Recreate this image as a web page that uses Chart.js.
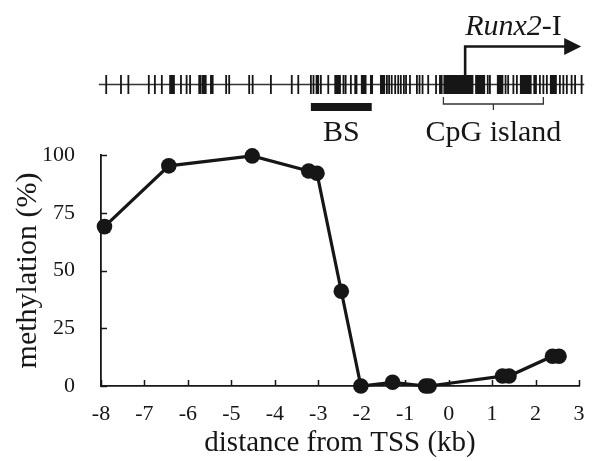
<!DOCTYPE html>
<html>
<head>
<meta charset="utf-8">
<script src="https://cdn.jsdelivr.net/npm/chart.js@4.4.0/dist/chart.umd.min.js"></script>
<style>
  html, body { margin: 0; padding: 0; background: #fff; }
</style>
</head>
<body>
<canvas id="chartCanvas" width="603" height="461"></canvas>
<script>
// methylation profile (distance in kb, methylation in %)
const distKb = [-7.92, -6.44, -4.52, -3.22, -3.03, -2.47, -2.02, -1.29, -0.53, -0.45, 1.24, 1.39, 2.39, 2.54];
const methylPct = [69, 95.3, 99.6, 93.1, 92.1, 41, 0, 1.6, 0, 0, 4.3, 4.3, 12.9, 12.9];

const xTicks = [-8, -7, -6, -5, -4, -3, -2, -1, 0, 1, 2, 3];
const yTicks = [0, 25, 50, 75, 100];

// CpG map above the plot (kb)
const cpgSites = [-7.88, -7.54, -7.37, -6.90, -6.76, -6.60, -6.16, -6.03, -5.95, -5.74, -5.71, -5.66, -5.63,
  -5.59, -5.47, -5.43, -5.12, -5.05, -4.59, -4.51, -4.09, -3.61, -3.46, -3.17, -3.11, -3.04, -3.00, -2.94,
  -2.77, -2.61, -2.58, -2.54, -2.50, -2.42, -2.37, -2.25, -2.15, -2.12, -1.42, -1.37, -1.31, -1.23, -1.16,
  -1.10, -1.03, -0.98, -0.89, -0.73, -0.67, -0.60, -0.47, -0.29, -0.20, -0.16, 0.90, 0.95, 1.31, 1.37,
  1.49, 1.57, 1.97, 2.01, 2.10, 2.18, 2.26, 2.56, 2.64, 2.72, 2.83, 2.91, 3.06];
const cpgBlocks = [[-6.43, -6.30], [-2.02, -1.89], [-1.81, -1.74], [-1.58, -1.46], [-0.12, 0.57],
  [0.61, 0.84], [1.11, 1.26], [1.64, 1.91], [2.33, 2.49]];
const bsRegion = [-3.17, -1.77];
const cpgIsland = [-0.12, 2.18];
const tssArrow = [0.38, 3.05];
const mapRange = [-8.05, 3.12];

const INK = "#161616";
const SERIF = '"Liberation Serif", "Times New Roman", serif';

// inward tick marks on both axes
const innerTicks = {
  id: "innerTicks",
  afterDraw(chart) {
    const ctx = chart.ctx;
    const x = chart.scales.x, y = chart.scales.y;
    ctx.save();
    ctx.strokeStyle = INK;
    ctx.lineWidth = 1.5;
    ctx.beginPath();
    xTicks.forEach(v => {
      const px = Math.round(x.getPixelForValue(v)) + 0.5;
      ctx.moveTo(px, y.bottom);
      ctx.lineTo(px, y.bottom - 6);
    });
    yTicks.forEach(v => {
      const py = Math.round(y.getPixelForValue(v)) + 0.5;
      ctx.moveTo(x.left, py);
      ctx.lineTo(x.left + 6, py);
    });
    ctx.stroke();
    ctx.restore();
  }
};

// CpG map, BS amplicon, CpG island and TSS arrow
const geneMap = {
  id: "geneMap",
  afterDraw(chart) {
    const ctx = chart.ctx;
    const x = chart.scales.x;
    const px = v => x.getPixelForValue(v);
    const lineY = 84.5;
    ctx.save();

    ctx.strokeStyle = "#333";
    ctx.lineWidth = 1.5;
    ctx.beginPath();
    ctx.moveTo(px(mapRange[0]), lineY);
    ctx.lineTo(px(mapRange[1]), lineY);
    ctx.stroke();

    ctx.strokeStyle = INK;
    ctx.lineWidth = 1.8;
    ctx.beginPath();
    cpgSites.forEach(v => {
      ctx.moveTo(px(v), lineY - 9.5);
      ctx.lineTo(px(v), lineY + 9.5);
    });
    ctx.stroke();

    ctx.fillStyle = INK;
    cpgBlocks.forEach(b => {
      ctx.fillRect(px(b[0]), lineY - 9.5, px(b[1]) - px(b[0]), 19);
    });

    // BS bar
    ctx.fillRect(px(bsRegion[0]), 103, px(bsRegion[1]) - px(bsRegion[0]), 8);

    // CpG island bracket
    const l = px(cpgIsland[0]), r = px(cpgIsland[1]);
    ctx.lineWidth = 1.3;
    ctx.strokeStyle = "#333";
    ctx.beginPath();
    ctx.moveTo(l, 97); ctx.lineTo(l, 104); ctx.lineTo(r, 104); ctx.lineTo(r, 97);
    ctx.moveTo((l + r) / 2, 104); ctx.lineTo((l + r) / 2, 110);
    ctx.stroke();

    // TSS arrow
    const ax = px(tssArrow[0]), aEnd = px(tssArrow[1]);
    ctx.strokeStyle = INK;
    ctx.lineWidth = 2.6;
    ctx.beginPath();
    ctx.moveTo(ax, 75);
    ctx.lineTo(ax, 46.5);
    ctx.lineTo(aEnd - 16, 46.5);
    ctx.stroke();
    ctx.beginPath();
    ctx.moveTo(aEnd, 46.5);
    ctx.lineTo(aEnd - 17, 38);
    ctx.lineTo(aEnd - 17, 55);
    ctx.closePath();
    ctx.fill();

    // labels
    ctx.fillStyle = INK;
    ctx.textBaseline = "alphabetic";
    ctx.font = "italic 30px " + SERIF;
    ctx.textAlign = "left";
    ctx.fillText("Runx2", ax, 35);
    const w = ctx.measureText("Runx2").width;
    ctx.font = "30px " + SERIF;
    ctx.fillText("-I", ax + w, 35);

    ctx.textAlign = "center";
    ctx.fillText("BS", (px(bsRegion[0]) + px(bsRegion[1])) / 2, 141);
    ctx.fillText("CpG island", (l + r) / 2, 141);
    ctx.restore();
  }
};

const ctx = document.getElementById("chartCanvas").getContext("2d");
const chart = new Chart(ctx, {
  type: "scatter",
  data: {
    datasets: [{
      data: distKb.map((d, i) => ({ x: d, y: methylPct[i] })),
      showLine: true,
      clip: false,
      borderColor: INK,
      backgroundColor: INK,
      borderWidth: 3.2,
      pointRadius: 7.8,
      pointBorderWidth: 0,
      tension: 0
    }]
  },
  options: {
    responsive: false,
    animation: false,
    layout: { padding: { top: 155, right: 24, left: 0, bottom: 0 } },
    plugins: { legend: { display: false }, tooltip: { enabled: false } },
    scales: {
      x: {
        type: "linear",
        min: -8,
        max: 3,
        afterBuildTicks: s => { s.ticks = xTicks.map(v => ({ value: v })); },
        afterFit: s => { s.height = 75; },
        grid: { display: false },
        border: { color: INK, width: 1.8 },
        ticks: { color: INK, font: { family: SERIF, size: 22 }, padding: 7 },
        title: { display: true, text: "distance from TSS (kb)", color: INK,
          font: { family: SERIF, size: 29 }, padding: { top: 0, bottom: 0 } }
      },
      y: {
        min: 0,
        max: 100,
        afterBuildTicks: s => { s.ticks = yTicks.map(v => ({ value: v })); },
        afterFit: s => { s.width = 101; },
        grid: { display: false },
        border: { color: INK, width: 1.8 },
        ticks: { color: INK, font: { family: SERIF, size: 22 }, padding: 18 },
        title: { display: true, text: "methylation (%)", color: INK,
          font: { family: SERIF, size: 30 }, padding: { top: 10, bottom: 0 } }
      }
    }
  },
  plugins: [innerTicks, geneMap]
});
</script>
</body>
</html>
